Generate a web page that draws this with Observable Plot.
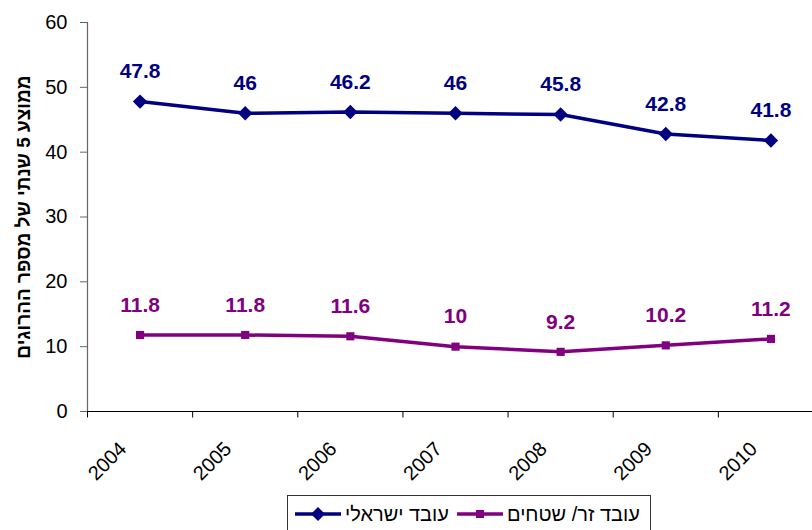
<!DOCTYPE html>
<html>
<head>
<meta charset="utf-8">
<script src="https://cdn.jsdelivr.net/npm/d3@7"></script>
<script src="https://cdn.jsdelivr.net/npm/@observablehq/plot@0.6"></script>
<style>
  html, body { margin: 0; padding: 0; background: #fff; }
  body { width: 812px; height: 530px; overflow: hidden; position: relative; font-family: "Liberation Sans", Arial, sans-serif; }
  #legend { position: absolute; left: 287px; top: 495px; width: 364px; height: 44px; border: 1px solid #333; background: #fff; box-sizing: border-box; }
  #legend .sw { position: absolute; top: 10px; }
  #legend .lab { position: absolute; top: 7px; font-size: 20px; color: #000; white-space: nowrap; direction: rtl; }
</style>
</head>
<body>
<div id="chart"></div>
<div id="legend"></div>
<script>
const years = [2004, 2005, 2006, 2007, 2008, 2009, 2010];
const israeli = [47.8, 46, 46.2, 46, 45.8, 42.8, 41.8];
const foreign = [11.8, 11.8, 11.6, 10, 9.2, 10.2, 11.2];
const yTicks = [0, 10, 20, 30, 40, 50, 60];
const seriesNames = ["עובד ישראלי", "עובד זר/ שטחים"];
const yTitle = "ממוצע 5 שנתי של מספר ההרוגים";

const navy = "#000080";
const purple = "#800080";
const font = "'Liberation Sans', Arial, sans-serif";

const rowsI = years.map((y, i) => ({year: y, value: israeli[i]}));
const rowsF = years.map((y, i) => ({year: y, value: foreign[i]}));
const boundaries = years.map(y => y - 0.5);

const chart = Plot.plot({
  width: 812,
  height: 490,
  marginLeft: 87,
  marginRight: 0,
  marginTop: 22,
  marginBottom: 79,
  style: {fontFamily: font, background: "#fff", overflow: "visible"},
  x: {domain: [2003.5, 2010.5], range: [87, 823]},
  y: {domain: [0, 60]},
  marks: [
    Plot.axisY({ticks: yTicks, tickSize: 7, tickPadding: 13, fontSize: 20, stroke: "#666", fill: "#000", label: null}),
    Plot.ruleX([2003.5], {stroke: "#666", strokeWidth: 1.2}),
    Plot.axisX({ticks: boundaries, tickSize: 6.5, tickFormat: () => "", stroke: "#000", label: null}),
    Plot.ruleY([0], {stroke: "#000", strokeWidth: 1.2}),
    Plot.text(years, {x: d => d, frameAnchor: "bottom", text: d => String(d), rotate: -45, textAnchor: "end", lineAnchor: "middle", dx: -17, dy: 34, fontSize: 20, fill: "#000"}),
    Plot.text([yTitle], {frameAnchor: "left", dx: -64, rotate: -90, text: d => d, textAnchor: "middle", lineAnchor: "middle", fontSize: 19, fontWeight: "bold", fill: "#000"}),
    Plot.line(rowsI, {x: "year", y: "value", stroke: navy, strokeWidth: 3.5}),
    Plot.dot(rowsI, {x: "year", y: "value", symbol: "diamond2", r: 6.5, fill: navy, stroke: "none"}),
    Plot.text(rowsI, {x: "year", y: "value", text: d => String(d.value), dy: -30, fontSize: 21, fontWeight: "bold", fill: navy}),
    Plot.line(rowsF, {x: "year", y: "value", stroke: purple, strokeWidth: 3.5}),
    Plot.dot(rowsF, {x: "year", y: "value", symbol: "square", r: 4.6, fill: purple, stroke: "none"}),
    Plot.text(rowsF, {x: "year", y: "value", text: d => String(d.value), dy: -30, fontSize: 21, fontWeight: "bold", fill: purple})
  ]
});
document.getElementById("chart").appendChild(chart);

// legend
const legend = document.getElementById("legend");
function swatch(color, shape, left) {
  const s = document.createElementNS("http://www.w3.org/2000/svg", "svg");
  s.setAttribute("width", 46); s.setAttribute("height", 16);
  s.setAttribute("class", "sw");
  s.style.left = left + "px";
  s.innerHTML = `<line x1="0" x2="46" y1="8" y2="8" stroke="${color}" stroke-width="3.5"/>` +
    (shape === "diamond"
      ? `<path d="M23,1 L30,8 L23,15 L16,8 Z" fill="${color}"/>`
      : `<rect x="19" y="4" width="8" height="8" fill="${color}"/>`);
  legend.appendChild(s);
}
function label(text, left) {
  const d = document.createElement("div");
  d.className = "lab";
  d.style.left = left + "px";
  d.textContent = text;
  legend.appendChild(d);
}
swatch(navy, "diamond", 7);
label(seriesNames[0], 57);
swatch(purple, "square", 169);
label(seriesNames[1], 219);
</script>
</body>
</html>
